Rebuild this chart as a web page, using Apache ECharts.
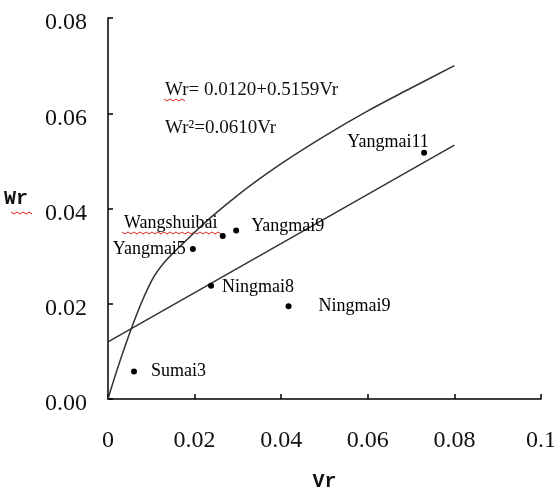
<!DOCTYPE html>
<html>
<head>
<meta charset="utf-8">
<script src="https://cdn.jsdelivr.net/npm/echarts@6/dist/echarts.min.js"></script>
<style>
  html, body { margin: 0; padding: 0; background: #fff; }
  #chart { width: 557px; height: 490px; }
</style>
</head>
<body>
<div id="chart"></div>
<script>
var xTicks = ["0", "0.02", "0.04", "0.06", "0.08", "0.1"];
var yTicks = ["0.00", "0.02", "0.04", "0.06", "0.08"];

var names = ["Yangmai11", "Yangmai9", "Wangshuibai", "Yangmai5", "Ningmai8", "Ningmai9", "Sumai3"];
var vr = [0.0730, 0.0296, 0.0265, 0.0196, 0.0238, 0.0417, 0.0060];
var wr = [0.0517, 0.0354, 0.0342, 0.0315, 0.0238, 0.0195, 0.0058];

// fitted line, read at its two ends
var lineX = [0, 0.08];
var lineY = [0.0120, 0.0533];

// curve
var curveX = [0, 0.01, 0.02, 0.03, 0.04, 0.05, 0.06, 0.07, 0.08];
var curveY = [0, 0.0247, 0.0350, 0.0428, 0.0494, 0.0552, 0.0605, 0.0653, 0.0700];

var SERIF = "'Liberation Serif','Times New Roman',serif";
var MONO = "'Liberation Mono','DejaVu Sans Mono',monospace";
var INK = "#111";

var labelPos = {
  "Yangmai11": { position: "top", offset: [-36, 6] },
  "Yangmai9": { position: "right", distance: 12, offset: [0, -4] },
  "Wangshuibai": { position: "top", offset: [-52, 4] },
  "Yangmai5": { position: "left", distance: 4 },
  "Ningmai8": { position: "right", distance: 8, offset: [0, 2] },
  "Ningmai9": { position: "right", distance: 27 },
  "Sumai3": { position: "right", distance: 14 }
};

function zip(a, b) { return a.map(function(v, i) { return [v, b[i]]; }); }

function zigzag(x, y, w) {
  var pts = [];
  for (var i = 0; i * 3 <= w; i++) pts.push([x + i * 3, y + (i % 2 ? 2 : 0)]);
  return { type: "polyline", shape: { points: pts }, style: { stroke: "#e02020", lineWidth: 1, fill: null }, silent: true };
}

var chart = echarts.init(document.getElementById("chart"));
chart.setOption({
  animation: false,
  grid: { left: 108, right: 16, top: 18, bottom: 91, outerBoundsMode: "none", containLabel: false },
  xAxis: {
    type: "value", min: 0, max: 0.1, interval: 0.02,
    name: "Vr", nameLocation: "middle", nameGap: 73,
    nameTextStyle: { fontFamily: MONO, fontSize: 20, fontWeight: "bold", color: INK },
    axisLine: { show: true, lineStyle: { color: "#000", width: 1.5 } },
    axisTick: { show: true, inside: true, length: 5, lineStyle: { color: "#000", width: 1.5 } },
    splitLine: { show: false },
    axisLabel: { margin: 30, fontFamily: SERIF, fontSize: 24, color: INK,
      formatter: function(v, i) { return xTicks[i]; } }
  },
  yAxis: {
    type: "value", min: 0, max: 0.08, interval: 0.02,
    name: "Wr", nameLocation: "middle", nameGap: 80, nameRotate: 0,
    nameTextStyle: { fontFamily: MONO, fontSize: 20, fontWeight: "bold", color: INK, verticalAlign: "bottom" },
    axisLine: { show: true, lineStyle: { color: "#000", width: 1.5 } },
    axisTick: { show: true, inside: true, length: 5, lineStyle: { color: "#000", width: 1.5 } },
    splitLine: { show: false },
    axisLabel: { margin: 21, color: INK,
      formatter: function(v, i) { return "{t|" + yTicks[i] + "}"; },
      rich: { t: { fontFamily: SERIF, fontSize: 24, color: INK, padding: [10, 0, 0, 0] } } }
  },
  graphic: [
    { type: "text", left: 165, top: 81, silent: true,
      style: { text: "Wr= 0.0120+0.5159Vr", font: "19px " + SERIF, fill: INK } },
    { type: "text", left: 165, top: 119, silent: true,
      style: { text: "Wr\u00b2=0.0610Vr", font: "19px " + SERIF, fill: INK } },
    zigzag(164, 99, 22),
    zigzag(11, 212, 22),
    zigzag(122, 232, 100)
  ],
  series: [
    { type: "line", data: zip(curveX, curveY), smooth: 0.35, symbol: "none",
      lineStyle: { color: "#333", width: 1.5 }, z: 2 },
    { type: "line", data: zip(lineX, lineY), symbol: "none",
      lineStyle: { color: "#333", width: 1.5 }, z: 2 },
    { type: "scatter", symbolSize: 6, itemStyle: { color: "#000", opacity: 1 }, z: 3,
      data: names.map(function(n, i) {
        var p = labelPos[n];
        return { name: n, value: [vr[i], wr[i]],
          label: Object.assign({ show: true, formatter: "{b}", fontFamily: SERIF, fontSize: 18, color: "#000" }, p) };
      }) }
  ]
});
</script>
</body>
</html>
